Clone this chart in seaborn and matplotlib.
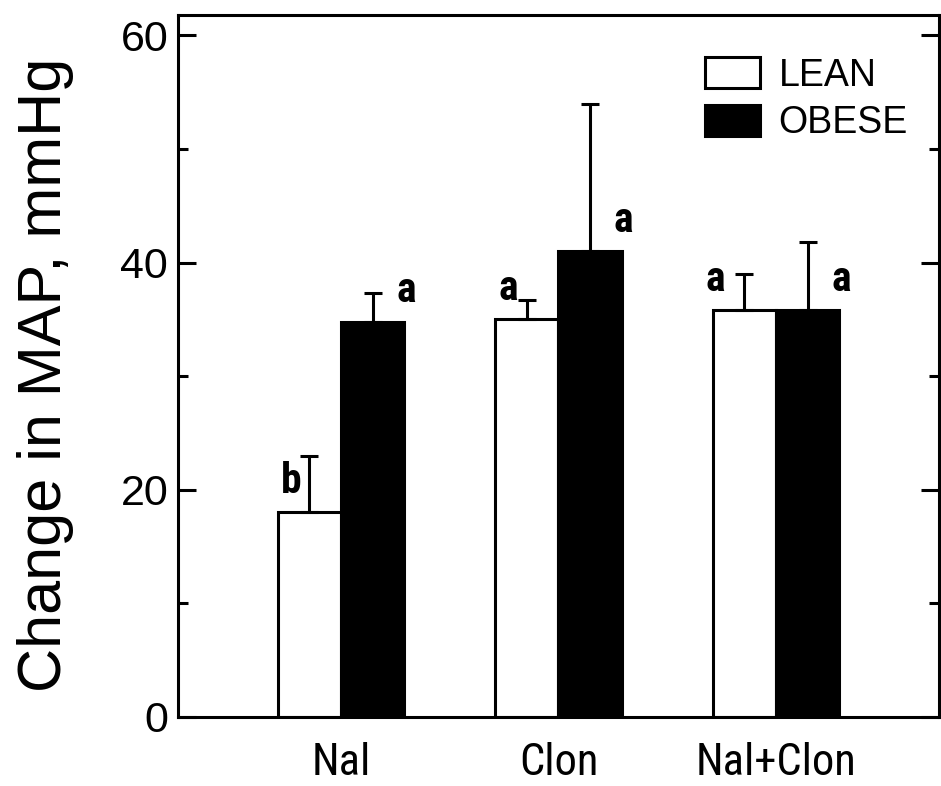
import matplotlib
matplotlib.use("Agg")
import matplotlib.pyplot as plt
import seaborn as sns
import pandas as pd
import numpy as np
from matplotlib.ticker import MultipleLocator

categories = ["Nal", "Clon", "Nal+Clon"]
groups = ["LEAN", "OBESE"]
lean_values = [18.0, 35.0, 35.8]
obese_values = [34.8, 41.0, 35.8]
lean_err = [5.0, 1.7, 3.2]
obese_err = [2.5, 13.0, 6.0]
lean_letters = ["b", "a", "a"]
obese_letters = ["a", "a", "a"]

df = pd.DataFrame({
    "cond": categories * 2,
    "group": ["LEAN"] * 3 + ["OBESE"] * 3,
    "value": lean_values + obese_values,
})

sns.set_theme(style="white")
plt.rcParams["font.family"] = ["Liberation Sans", "DejaVu Sans"]
for k in ["text.color", "axes.labelcolor", "xtick.color", "ytick.color"]:
    plt.rcParams[k] = "black"

narrow = ["Roboto Condensed", "Archivo Narrow", "Liberation Sans", "DejaVu Sans"]

fig = plt.figure(figsize=(9.41, 7.86), dpi=100)
ax = fig.add_axes([0.189, 0.088, 0.809, 0.893])

sns.barplot(data=df, x="cond", y="value", hue="group", order=categories,
            hue_order=groups, palette={"LEAN": "white", "OBESE": "black"},
            edgecolor="black", linewidth=2.2, width=0.58, gap=0,
            errorbar=None, ax=ax, legend=True)

conts = ax.containers
for cont, vals, errs, letters, side in [
        (conts[0], lean_values, lean_err, lean_letters, -1),
        (conts[1], obese_values, obese_err, obese_letters, 1)]:
    for i, bar in enumerate(cont):
        xc = bar.get_x() + bar.get_width() / 2
        ax.errorbar([xc], [vals[i]], yerr=[[0], [errs[i]]], fmt="none",
                    ecolor="black", elinewidth=2.2, capsize=6.5, capthick=2.2,
                    zorder=1)
        off = 0.085 if side < 0 else 0.155
        if side < 0 and i == 2:
            off = 0.135
        ax.text(xc + side * off, vals[i] + 0.9, letters[i], ha="center",
                va="bottom", fontsize=30, fontweight="semibold", family=narrow)

ax.set_xlim(-0.75, 2.75)
ax.set_ylim(0, 61.8)
ax.yaxis.set_major_locator(MultipleLocator(20))
ax.yaxis.set_minor_locator(MultipleLocator(10))
ax.tick_params(axis="y", which="major", direction="in", length=13, width=2.2,
               labelsize=31, left=True, right=True, pad=7)
ax.tick_params(axis="y", which="minor", direction="in", length=7, width=2.2,
               left=True, right=True)
ax.tick_params(axis="x", length=0, pad=18)
for lab in ax.get_xticklabels():
    lab.set_family(narrow)
    lab.set_fontsize(32)
ax.set_xlabel("")
ax.set_ylabel("Change in MAP, mmHg", fontsize=44)
ax.yaxis.set_label_coords(-0.137, 0.487)
for s in ax.spines.values():
    s.set_linewidth(2.2)
    s.set_color("black")

leg = ax.legend(loc="upper left", frameon=False,
                prop={"family": ["Liberation Sans"], "size": 27},
                handlelength=1.45, handleheight=0.9, handletextpad=0.5,
                bbox_to_anchor=(0.693, 0.94), borderpad=0, borderaxespad=0,
                labelspacing=0.3)
for h in leg.legend_handles:
    h.set_edgecolor("black")
    h.set_linewidth(2.2)

fig.savefig("out.png", dpi=100, facecolor="white")
